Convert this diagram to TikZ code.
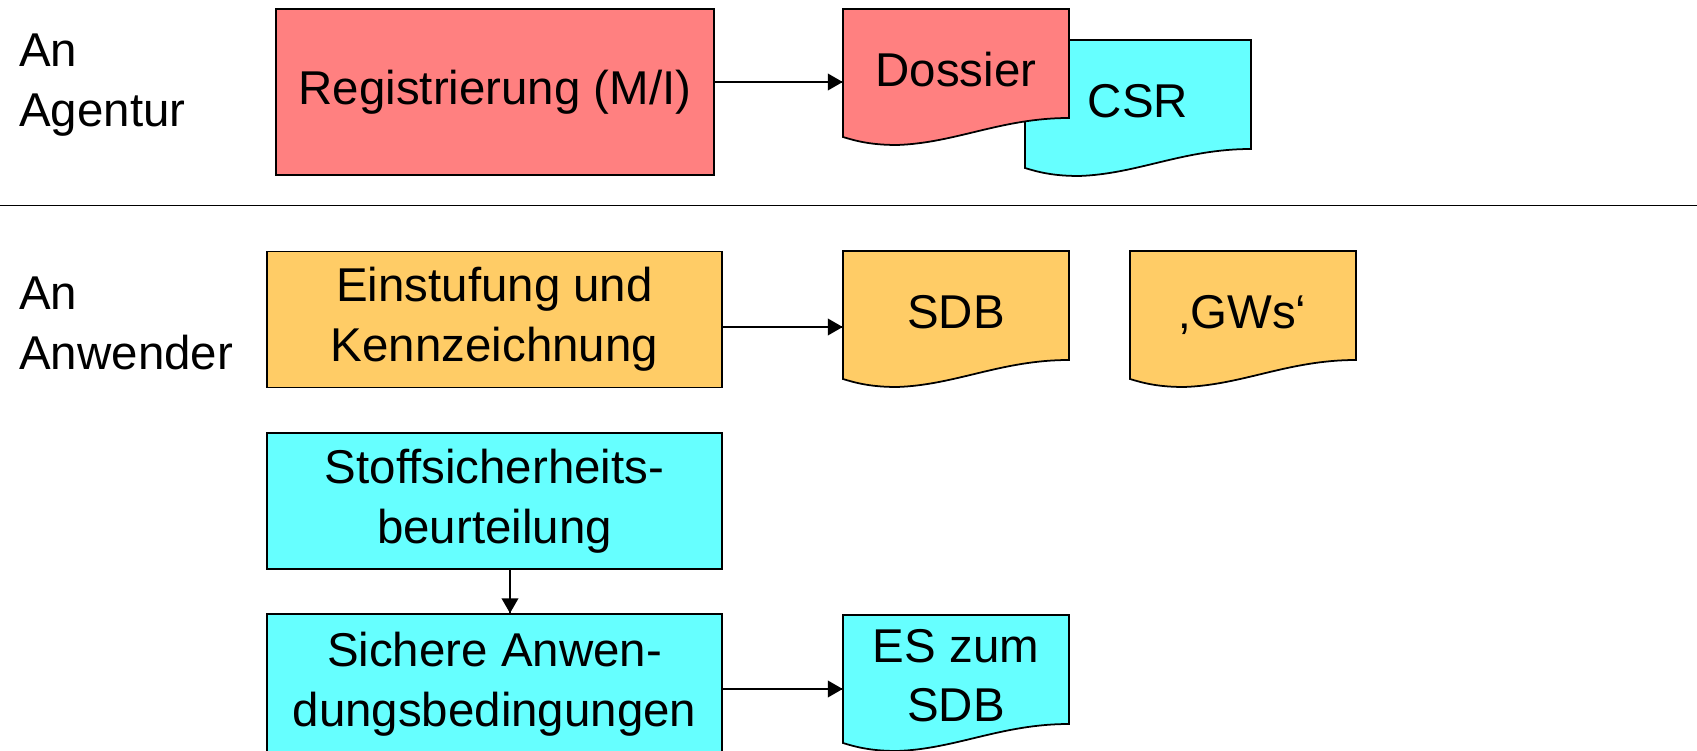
\documentclass[tikz,border=0pt]{standalone}
\usepackage{fontspec}
\setmainfont{Liberation Sans}
\usetikzlibrary{arrows}
\usetikzlibrary{decorations.markings}
\definecolor{regred}{HTML}{FF8080}
\definecolor{csrcyan}{HTML}{66FFFF}
\definecolor{kzorange}{HTML}{FFCC66}
\tikzset{flow/.style = {line width = 1pt,
                        decoration={markings,
                                    mark=at position 1 with {\arrow[scale=1.15]{triangle 60}}},
                        postaction={decorate}}}
\tikzset{box/.style = {draw, line width = 1pt, inner sep = 0, align = center,
                       minimum width = 9.1cm, minimum height = 2.72cm,
                       font = \fontsize{27}{34}\selectfont}}
\tikzset{doc/.style = {inner sep = 0, align = center, text depth = 0.3cm,
                       minimum width = 4.52cm, minimum height = 2.72cm,
                       font = \fontsize{27}{34}\selectfont}}
\tikzset{side/.style = {anchor = west, inner sep = 0, align = left,
                        font = \fontsize{27}{34}\selectfont}}
\newcommand{\docshape}[2]{%
  \draw [line width = 1pt, fill = #2, shift = {(#1)}]
    (-2.26, 1.36) -- (2.26, 1.36) -- (2.26, -0.82)
    .. controls (0.9, -0.82) and (0, -1.32) .. (-1.18, -1.36)
    .. controls (-1.7, -1.36) and (-2, -1.28) .. (-2.26, -1.2) -- cycle;}

\begin{document}
\begin{tikzpicture}
      \useasboundingbox (0, 0) rectangle (33.94, 15);

      \node [side] (agentur) at (0.38, 13.3) {An\\Agentur};
      \node [side] (anwender) at (0.38, 8.53) {An\\Anwender};
      \draw [line width = 1pt] (0, 10.89) -- (33.94, 10.89);

      \node [box, fill = regred, minimum width = 8.76cm, minimum height = 3.32cm] (reg) at (9.9, 13.16) {Registrierung (M/I)};
      \docshape{22.76, 12.84}{csrcyan}
      \node [doc] (csr) at (22.76, 12.84) {CSR};
      \docshape{19.12, 13.46}{regred}
      \node [doc] (dossier) at (19.12, 13.46) {Dossier};

      \node [box, fill = kzorange] (einst) at (9.89, 8.61) {Einstufung und\\Kennzeichnung};
      \docshape{19.12, 8.62}{kzorange}
      \node [doc] (sdb) at (19.12, 8.62) {SDB};
      \docshape{24.86, 8.62}{kzorange}
      \node [doc] (gws) at (24.86, 8.62) {‚GWs‘};

      \node [box, fill = csrcyan] (stoff) at (9.89, 4.98) {Stoffsicherheits-\\beurteilung};
      \node [box, fill = csrcyan, minimum height = 2.8cm] (sichere) at (9.89, 1.32) {Sichere Anwen-\\dungsbedingungen};
      \docshape{19.12, 1.34}{csrcyan}
      \node [doc] (es) at (19.12, 1.34) {ES zum\\SDB};

      \coordinate (a1) at ([yshift=-0.1cm]dossier.west);
      \coordinate (a2) at ([yshift=-0.16cm]sdb.west);
      \coordinate (a3) at ([yshift=-0.12cm]es.west);
      \draw [flow] (reg.east |- a1) -- (a1);
      \draw [flow] (einst.east |- a2) -- (a2);
      \draw [flow] ([xshift=0.31cm]stoff.south) -- ([xshift=0.31cm]sichere.north);
      \draw [flow] (sichere.east |- a3) -- (a3);
    \end{tikzpicture}
\end{document}
